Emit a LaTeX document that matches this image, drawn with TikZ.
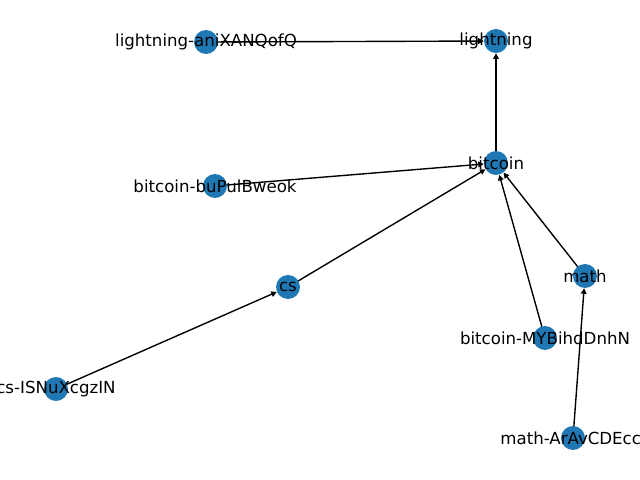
\documentclass[tikz,border=0pt]{standalone}
\usepackage{fontspec}
\setmainfont{DejaVu Sans}
\usetikzlibrary{arrows.meta, backgrounds}
\definecolor{nodec}{RGB}{31,119,180}

\begin{document}
\begin{tikzpicture}[x=0.01in, y=-0.01in, >={Triangle[length=4pt, width=4pt]},
  vtx/.style={circle, fill=nodec, inner sep=0pt, minimum size=17.3pt},
  lbl/.style={font=\fontsize{12}{14}\selectfont},
  edge/.style={->, line width=1pt, black}]

\useasboundingbox (0,0) rectangle (640,480);
\clip (0,0) rectangle (640,480);

%% ── nodes (pixel coordinates, y down) ───────────────────────────
\node[vtx, label={[lbl]center:lightning-aniXANQofQ}] (lani) at (206,42) {};
\node[vtx, label={[lbl]center:lightning}]            (light) at (496,41) {};
\node[vtx, label={[lbl]center:bitcoin}]              (btc) at (496,163) {};
\node[vtx, label={[lbl]center:bitcoin-buPulBweok}]   (bbu) at (215,186) {};
\node[vtx, label={[lbl]center:cs}]                   (cs) at (288,287) {};
\node[vtx, label={[lbl]center:cs-ISNuXcgzIN}]        (csis) at (56,389) {};
\node[vtx, label={[lbl]center:math}]                 (math) at (585,276) {};
\node[vtx, label={[lbl]center:bitcoin-MYBihdDnhN}]   (bmy) at (545,338) {};
\node[vtx, label={[lbl]center:math-ArAvCDEccl}]      (mar) at (573,438) {};

%% ── edges (behind the nodes) ────────────────────────────────────
\begin{scope}[on background layer]
  \draw[edge] (lani.center) -- (light);
  \draw[edge] (btc.center) -- (light);
  \draw[edge] (bbu.center) -- (btc);
  \draw[edge] (cs.center) -- (btc);
  \draw[edge] (bmy.center) -- (btc);
  \draw[edge] (math.center) -- (btc);
  \draw[edge] (csis.center) -- (cs);
  \draw[edge] (mar.center) -- (math);
\end{scope}

\end{tikzpicture}
\end{document}
